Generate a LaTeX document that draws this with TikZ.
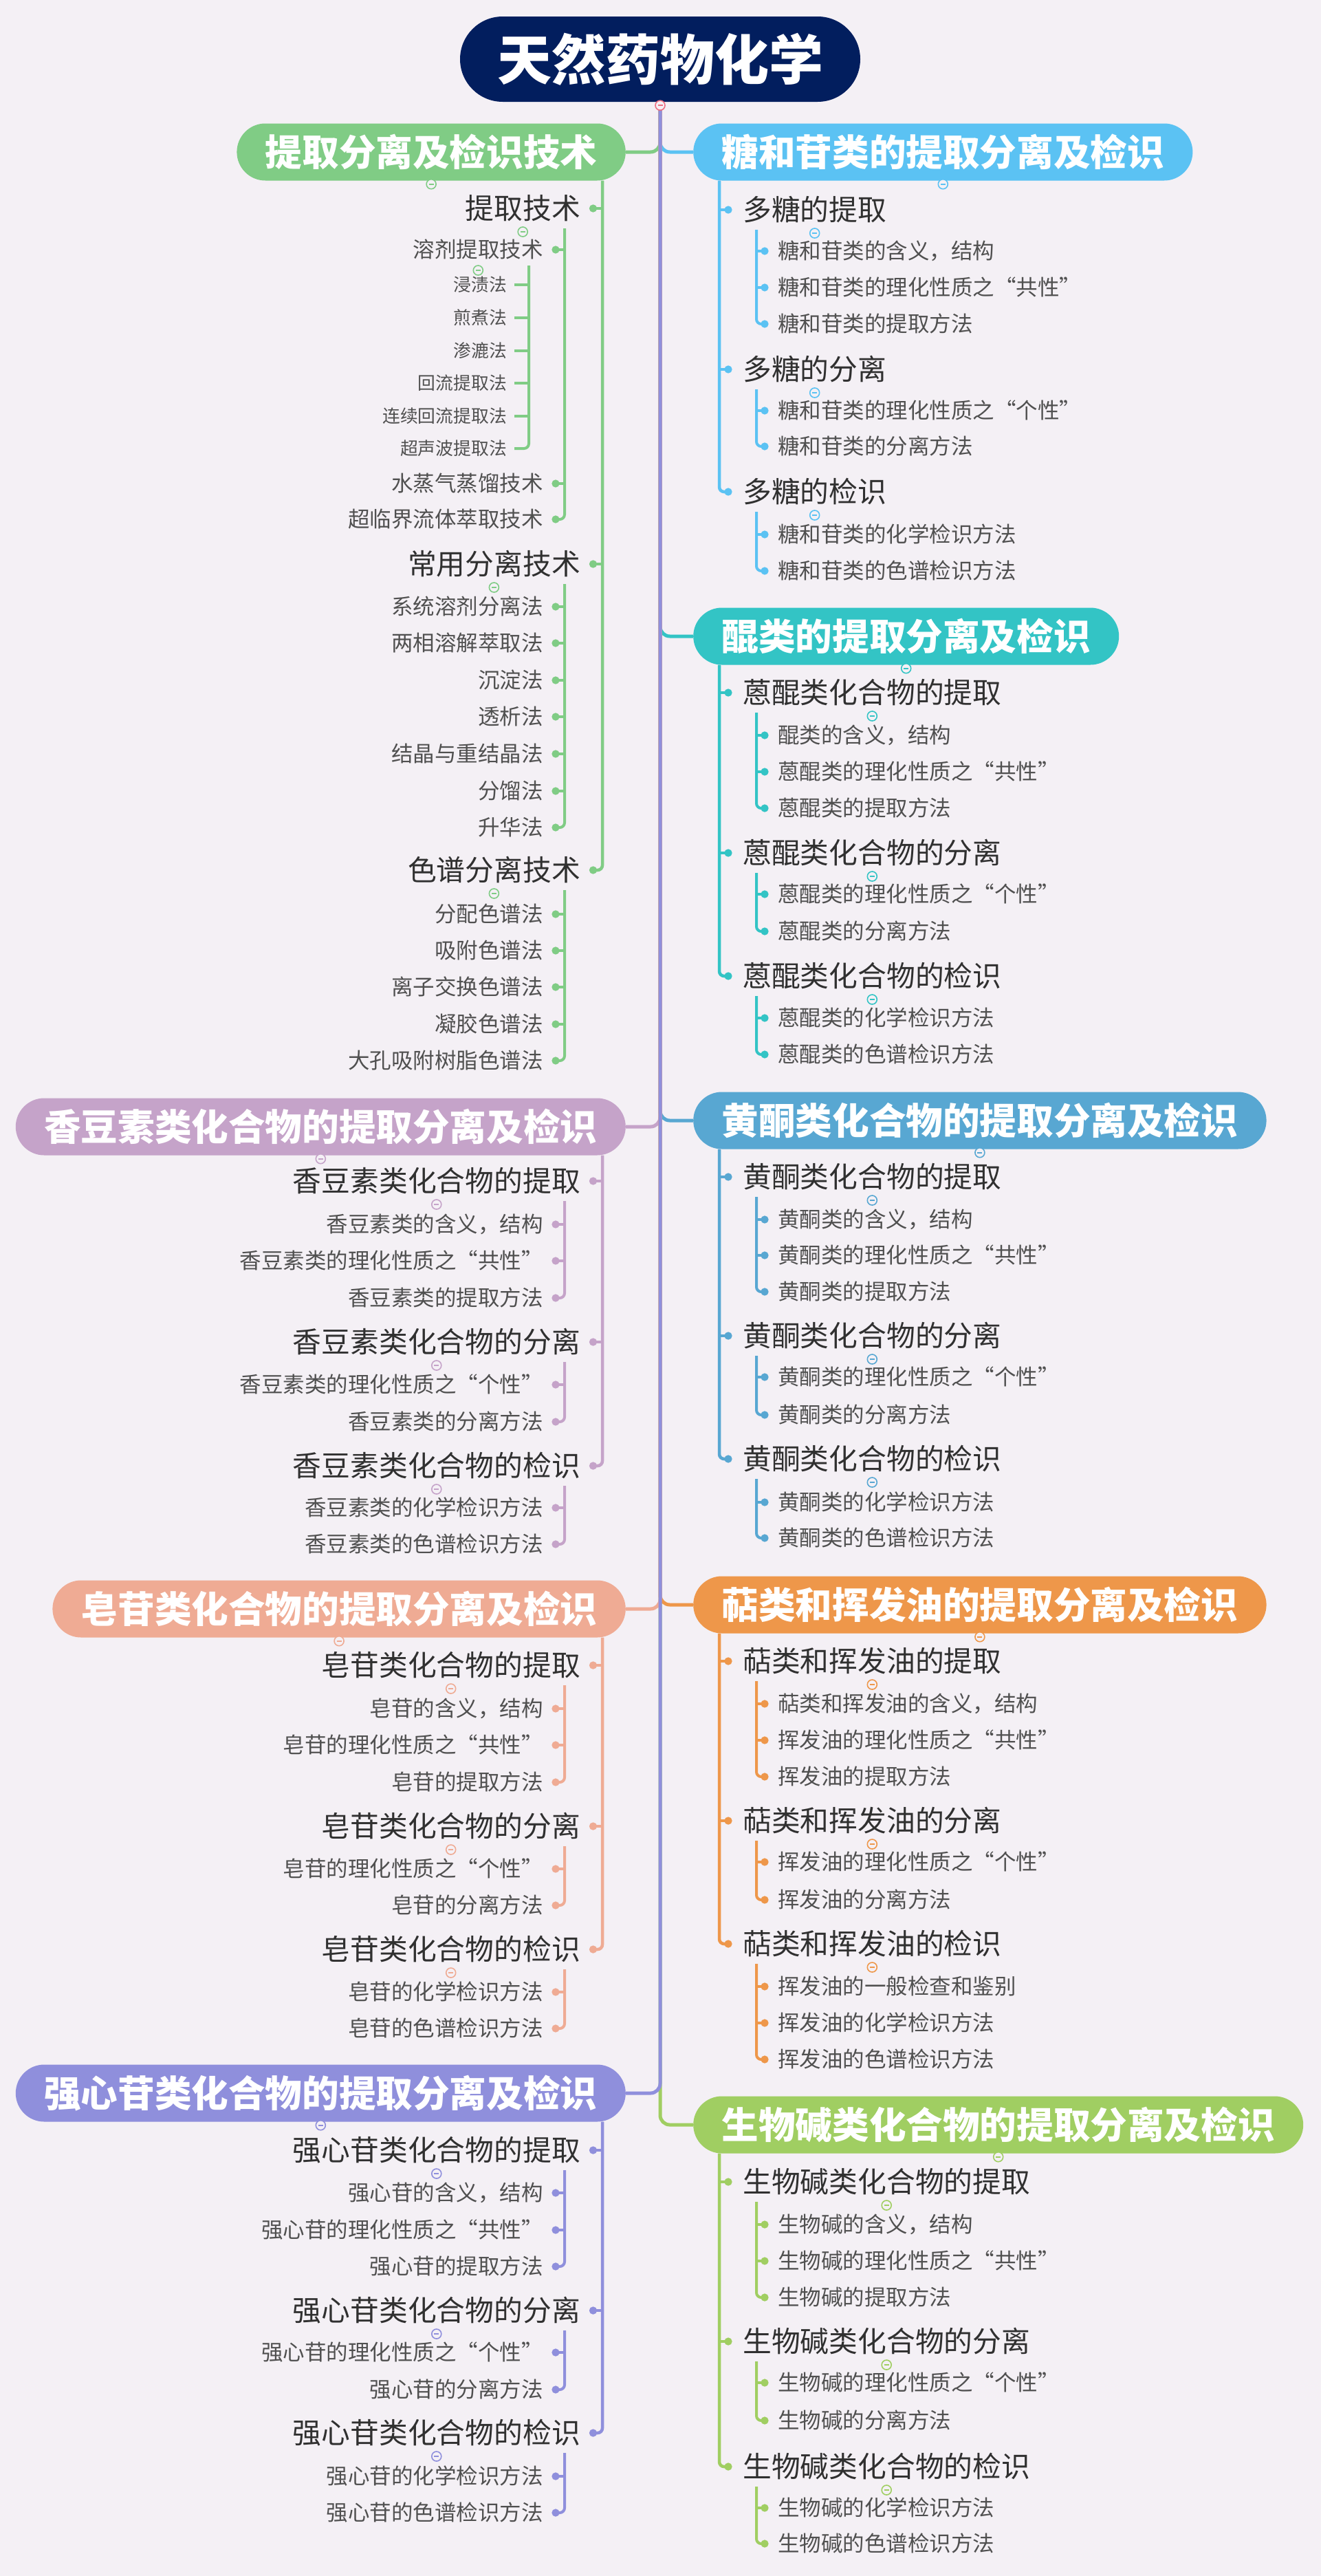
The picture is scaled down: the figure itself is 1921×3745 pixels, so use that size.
\documentclass[tikz,border=0pt]{standalone}
\usepackage{fontspec}
\setmainfont{Noto Sans CJK SC}
\usepackage{xcolor}
\usepackage{tikz}
\usetikzlibrary{arrows.meta}

\definecolor{bg}{HTML}{F4F0F5}
\definecolor{cRoot}{HTML}{021E5E}
\definecolor{cFold}{HTML}{EE6E82}
\definecolor{cA}{HTML}{80CC85}
\definecolor{cT}{HTML}{5BC2F3}
\definecolor{cQ}{HTML}{33C4C5}
\definecolor{cH}{HTML}{58A7D2}
\definecolor{cX}{HTML}{C5A3C9}
\definecolor{cP}{HTML}{EE974A}
\definecolor{cZ}{HTML}{EFAB94}
\definecolor{cC}{HTML}{8F8FDC}
\definecolor{cS}{HTML}{A0CE62}
\definecolor{txtA}{HTML}{303030}
\definecolor{txtB}{HTML}{505050}

\newcommand{\foldmark}[2]{%
  \draw[#1, line width=1.6pt, fill=bg] (#2) circle (7pt);
  \draw[#1, line width=1.6pt] (#2) ++(-3.5pt,0) -- ++(7pt,0);}

\tikzset{
  rootbox/.style={fill=cRoot, text=white, rounded corners=62pt, minimum height=124pt,
    inner xsep=54pt, inner ysep=0pt, font=\fontsize{79}{90}\selectfont\bfseries,
    text height=63.2pt, text depth=3.2pt},
  pill/.style={rounded corners=41.5pt, minimum height=83pt, inner xsep=41.5pt, inner ysep=0pt,
    text=white, font=\fontsize{53.6}{60}\selectfont\bfseries, text height=42.9pt, text depth=2.1pt},
  lvtwo/.style={inner sep=0pt, text=txtA, font=\fontsize{41.8}{48}\selectfont,
    text height=33.4pt, text depth=1.7pt},
  lvthree/.style={inner sep=0pt, text=txtB, font=\fontsize{31.5}{36}\selectfont,
    text height=25.2pt, text depth=1.3pt},
  lvfour/.style={inner sep=0pt, text=txtB, font=\fontsize{25.8}{30}\selectfont,
    text height=20.6pt, text depth=1pt},
  link/.style={line width=5pt, rounded corners=14pt},
  spine/.style={line width=4.5pt, rounded corners=7pt, -{Circle[length=11pt]}},
  stub/.style={line width=4.5pt, -{Circle[length=11pt]}},
  spinethree/.style={line width=4pt, rounded corners=7pt, -{Circle[length=11pt]}},
  stubthree/.style={line width=4pt, -{Circle[length=11pt]}},
  spinefour/.style={line width=4pt, rounded corners=7pt},
  stubfour/.style={line width=4pt}
}

\begin{document}
\begin{tikzpicture}[x=1pt, y=-1pt]
\fill[bg] (0,0) rectangle (1921,3745);
\useasboundingbox (0,0) rectangle (1921,3745);

% root
\node[rootbox] (R) at (960,86) {天然药物化学};

% main branches
\node[pill, fill=cA, anchor=east] (A) at (910,221) {提取分离及检识技术};
\node[pill, fill=cX, anchor=east] (X) at (910,1638) {香豆素类化合物的提取分离及检识};
\node[pill, fill=cZ, anchor=east] (Z) at (910,2339) {皂苷类化合物的提取分离及检识};
\node[pill, fill=cC, anchor=east] (C) at (910,3043) {强心苷类化合物的提取分离及检识};
\node[pill, fill=cT, anchor=west] (T) at (1008,221) {糖和苷类的提取分离及检识};
\node[pill, fill=cQ, anchor=west] (Q) at (1008,925) {醌类的提取分离及检识};
\node[pill, fill=cH, anchor=west] (H) at (1008,1629) {黄酮类化合物的提取分离及检识};
\node[pill, fill=cP, anchor=west] (P) at (1008,2333) {萜类和挥发油的提取分离及检识};
\node[pill, fill=cS, anchor=west] (S) at (1008,3089) {生物碱类化合物的提取分离及检识};

% trunk
\draw[cS, link] (R.south) |- (S.west);
\draw[cA, link] (R.south) |- (A.east);
\draw[cT, link] (R.south) |- (T.west);
\draw[cQ, link] (R.south) |- (Q.west);
\draw[cH, link] (R.south) |- (H.west);
\draw[cX, link] (R.south) |- (X.east);
\draw[cP, link] (R.south) |- (P.west);
\draw[cZ, link] (R.south) |- (Z.east);
\draw[cC, link] (R.south) |- (C.east);
\foldmark{cFold}{[yshift=-5pt]R.south}

% ---- 提取分离及检识技术
\node[lvtwo, anchor=east] (A1) at (844,303) {提取技术};
\node[lvthree, anchor=east] (A11) at (790,363) {溶剂提取技术};
\node[lvfour, anchor=east] (A111) at (737,414) {浸渍法};
\node[lvfour, anchor=east] (A112) at (737,462) {煎煮法};
\node[lvfour, anchor=east] (A113) at (737,510) {渗漉法};
\node[lvfour, anchor=east] (A114) at (737,557) {回流提取法};
\node[lvfour, anchor=east] (A115) at (737,605) {连续回流提取法};
\node[lvfour, anchor=east] (A116) at (737,652) {超声波提取法};
\node[lvthree, anchor=east] (A12) at (790,703) {水蒸气蒸馏技术};
\node[lvthree, anchor=east] (A13) at (790,755) {超临界流体萃取技术};
\node[lvtwo, anchor=east] (A2) at (844,820) {常用分离技术};
\node[lvthree, anchor=east] (A21) at (790,882) {系统溶剂分离法};
\node[lvthree, anchor=east] (A22) at (790,935) {两相溶解萃取法};
\node[lvthree, anchor=east] (A23) at (790,989) {沉淀法};
\node[lvthree, anchor=east] (A24) at (790,1042) {透析法};
\node[lvthree, anchor=east] (A25) at (790,1096) {结晶与重结晶法};
\node[lvthree, anchor=east] (A26) at (790,1150) {分馏法};
\node[lvthree, anchor=east] (A27) at (790,1203) {升华法};
\node[lvtwo, anchor=east] (A3) at (844,1265) {色谱分离技术};
\node[lvthree, anchor=east] (A31) at (790,1329) {分配色谱法};
\node[lvthree, anchor=east] (A32) at (790,1382) {吸附色谱法};
\node[lvthree, anchor=east] (A33) at (790,1435) {离子交换色谱法};
\node[lvthree, anchor=east] (A34) at (790,1489) {凝胶色谱法};
\node[lvthree, anchor=east] (A35) at (790,1542) {大孔吸附树脂色谱法};

\draw[cA, spine] ([xshift=-34pt]A.south east) |- ([xshift=13pt]A3.east);
\foreach \n in {A1,A2} \draw[cA, stub] ([xshift=31pt]\n.east) -- ([xshift=13pt]\n.east);
\draw[cA, spinethree] ([xshift=-23pt,yshift=-29pt]A1.east) |- ([xshift=12.5pt]A13.east);
\foreach \n in {A11,A12} \draw[cA, stubthree] ([xshift=31pt]\n.east) -- ([xshift=12.5pt]\n.east);
\draw[cA, spinefour] ([xshift=-21pt,yshift=-23pt]A11.east) |- ([xshift=11pt]A116.east);
\foreach \n in {A111,A112,A113,A114,A115} \draw[cA, stubfour] ([xshift=30pt]\n.east) -- ([xshift=11pt]\n.east);
\draw[cA, spinethree] ([xshift=-23pt,yshift=-29pt]A2.east) |- ([xshift=12.5pt]A27.east);
\foreach \n in {A21,A22,A23,A24,A25,A26} \draw[cA, stubthree] ([xshift=31pt]\n.east) -- ([xshift=12.5pt]\n.east);
\draw[cA, spinethree] ([xshift=-23pt,yshift=-29pt]A3.east) |- ([xshift=12.5pt]A35.east);
\foreach \n in {A31,A32,A33,A34} \draw[cA, stubthree] ([xshift=31pt]\n.east) -- ([xshift=12.5pt]\n.east);
\foldmark{cA}{[yshift=-5pt]A.south}
\foreach \n in {A1,A2,A3} {\foldmark{cA}{[yshift=-34pt]\n.center}}
\foldmark{cA}{[yshift=-30pt]A11.center}

% ---- 香豆素类
\node[lvtwo, anchor=east] (X1) at (844,1717) {香豆素类化合物的提取};
\node[lvthree, anchor=east] (X11) at (790,1780) {香豆素类的含义，结构};
\node[lvthree, anchor=east] (X12) at (790,1833) {香豆素类的理化性质之“共性”};
\node[lvthree, anchor=east] (X13) at (790,1887) {香豆素类的提取方法};
\node[lvtwo, anchor=east] (X2) at (844,1951) {香豆素类化合物的分离};
\node[lvthree, anchor=east] (X21) at (790,2013) {香豆素类的理化性质之“个性”};
\node[lvthree, anchor=east] (X22) at (790,2067) {香豆素类的分离方法};
\node[lvtwo, anchor=east] (X3) at (844,2131) {香豆素类化合物的检识};
\node[lvthree, anchor=east] (X31) at (790,2192) {香豆素类的化学检识方法};
\node[lvthree, anchor=east] (X32) at (790,2245) {香豆素类的色谱检识方法};

\draw[cX, spine] ([xshift=-34pt]X.south east) |- ([xshift=13pt]X3.east);
\foreach \n in {X1,X2} \draw[cX, stub] ([xshift=31pt]\n.east) -- ([xshift=13pt]\n.east);
\draw[cX, spinethree] ([xshift=-23pt,yshift=-29pt]X1.east) |- ([xshift=12.5pt]X13.east);
\foreach \n in {X11,X12} \draw[cX, stubthree] ([xshift=31pt]\n.east) -- ([xshift=12.5pt]\n.east);
\draw[cX, spinethree] ([xshift=-23pt,yshift=-29pt]X2.east) |- ([xshift=12.5pt]X22.east);
\draw[cX, stubthree] ([xshift=31pt]X21.east) -- ([xshift=12.5pt]X21.east);
\draw[cX, spinethree] ([xshift=-23pt,yshift=-29pt]X3.east) |- ([xshift=12.5pt]X32.east);
\draw[cX, stubthree] ([xshift=31pt]X31.east) -- ([xshift=12.5pt]X31.east);
\foldmark{cX}{[yshift=-5pt]X.south}
\foreach \n in {X1,X2,X3} {\foldmark{cX}{[yshift=-34pt]\n.center}}

% ---- 皂苷类
\node[lvtwo, anchor=east] (Z1) at (844,2421) {皂苷类化合物的提取};
\node[lvthree, anchor=east] (Z11) at (790,2484) {皂苷的含义，结构};
\node[lvthree, anchor=east] (Z12) at (790,2537) {皂苷的理化性质之“共性”};
\node[lvthree, anchor=east] (Z13) at (790,2591) {皂苷的提取方法};
\node[lvtwo, anchor=east] (Z2) at (844,2655) {皂苷类化合物的分离};
\node[lvthree, anchor=east] (Z21) at (790,2717) {皂苷的理化性质之“个性”};
\node[lvthree, anchor=east] (Z22) at (790,2770) {皂苷的分离方法};
\node[lvtwo, anchor=east] (Z3) at (844,2834) {皂苷类化合物的检识};
\node[lvthree, anchor=east] (Z31) at (790,2896) {皂苷的化学检识方法};
\node[lvthree, anchor=east] (Z32) at (790,2949) {皂苷的色谱检识方法};

\draw[cZ, spine] ([xshift=-34pt]Z.south east) |- ([xshift=13pt]Z3.east);
\foreach \n in {Z1,Z2} \draw[cZ, stub] ([xshift=31pt]\n.east) -- ([xshift=13pt]\n.east);
\draw[cZ, spinethree] ([xshift=-23pt,yshift=-29pt]Z1.east) |- ([xshift=12.5pt]Z13.east);
\foreach \n in {Z11,Z12} \draw[cZ, stubthree] ([xshift=31pt]\n.east) -- ([xshift=12.5pt]\n.east);
\draw[cZ, spinethree] ([xshift=-23pt,yshift=-29pt]Z2.east) |- ([xshift=12.5pt]Z22.east);
\draw[cZ, stubthree] ([xshift=31pt]Z21.east) -- ([xshift=12.5pt]Z21.east);
\draw[cZ, spinethree] ([xshift=-23pt,yshift=-29pt]Z3.east) |- ([xshift=12.5pt]Z32.east);
\draw[cZ, stubthree] ([xshift=31pt]Z31.east) -- ([xshift=12.5pt]Z31.east);
\foldmark{cZ}{[yshift=-5pt]Z.south}
\foreach \n in {Z1,Z2,Z3} {\foldmark{cZ}{[yshift=-34pt]\n.center}}

% ---- 强心苷类
\node[lvtwo, anchor=east] (C1) at (844,3126) {强心苷类化合物的提取};
\node[lvthree, anchor=east] (C11) at (790,3188) {强心苷的含义，结构};
\node[lvthree, anchor=east] (C12) at (790,3242) {强心苷的理化性质之“共性”};
\node[lvthree, anchor=east] (C13) at (790,3295) {强心苷的提取方法};
\node[lvtwo, anchor=east] (C2) at (844,3359) {强心苷类化合物的分离};
\node[lvthree, anchor=east] (C21) at (790,3420) {强心苷的理化性质之“个性”};
\node[lvthree, anchor=east] (C22) at (790,3474) {强心苷的分离方法};
\node[lvtwo, anchor=east] (C3) at (844,3537) {强心苷类化合物的检识};
\node[lvthree, anchor=east] (C31) at (790,3600) {强心苷的化学检识方法};
\node[lvthree, anchor=east] (C32) at (790,3653) {强心苷的色谱检识方法};

\draw[cC, spine] ([xshift=-34pt]C.south east) |- ([xshift=13pt]C3.east);
\foreach \n in {C1,C2} \draw[cC, stub] ([xshift=31pt]\n.east) -- ([xshift=13pt]\n.east);
\draw[cC, spinethree] ([xshift=-23pt,yshift=-29pt]C1.east) |- ([xshift=12.5pt]C13.east);
\foreach \n in {C11,C12} \draw[cC, stubthree] ([xshift=31pt]\n.east) -- ([xshift=12.5pt]\n.east);
\draw[cC, spinethree] ([xshift=-23pt,yshift=-29pt]C2.east) |- ([xshift=12.5pt]C22.east);
\draw[cC, stubthree] ([xshift=31pt]C21.east) -- ([xshift=12.5pt]C21.east);
\draw[cC, spinethree] ([xshift=-23pt,yshift=-29pt]C3.east) |- ([xshift=12.5pt]C32.east);
\draw[cC, stubthree] ([xshift=31pt]C31.east) -- ([xshift=12.5pt]C31.east);
\foldmark{cC}{[yshift=-5pt]C.south}
\foreach \n in {C1,C2,C3} {\foldmark{cC}{[yshift=-34pt]\n.center}}

% ---- 糖和苷类
\node[lvtwo, anchor=west] (T1) at (1080,305) {多糖的提取};
\node[lvthree, anchor=west] (T11) at (1131,365) {糖和苷类的含义，结构};
\node[lvthree, anchor=west] (T12) at (1131,418) {糖和苷类的理化性质之“共性”};
\node[lvthree, anchor=west] (T13) at (1131,471) {糖和苷类的提取方法};
\node[lvtwo, anchor=west] (T2) at (1080,537) {多糖的分离};
\node[lvthree, anchor=west] (T21) at (1131,597) {糖和苷类的理化性质之“个性”};
\node[lvthree, anchor=west] (T22) at (1131,649) {糖和苷类的分离方法};
\node[lvtwo, anchor=west] (T3) at (1080,715) {多糖的检识};
\node[lvthree, anchor=west] (T31) at (1131,777) {糖和苷类的化学检识方法};
\node[lvthree, anchor=west] (T32) at (1131,830) {糖和苷类的色谱检识方法};

\draw[cT, spine] ([xshift=38pt]T.south west) |- ([xshift=-15.5pt]T3.west);
\foreach \n in {T1,T2} \draw[cT, stub] ([xshift=-34pt]\n.west) -- ([xshift=-15.5pt]\n.west);
\draw[cT, spinethree] ([xshift=20pt,yshift=-29pt]T1.west) |- ([xshift=-13.5pt]T13.west);
\foreach \n in {T11,T12} \draw[cT, stubthree] ([xshift=-31pt]\n.west) -- ([xshift=-13.5pt]\n.west);
\draw[cT, spinethree] ([xshift=20pt,yshift=-29pt]T2.west) |- ([xshift=-13.5pt]T22.west);
\draw[cT, stubthree] ([xshift=-31pt]T21.west) -- ([xshift=-13.5pt]T21.west);
\draw[cT, spinethree] ([xshift=20pt,yshift=-29pt]T3.west) |- ([xshift=-13.5pt]T32.west);
\draw[cT, stubthree] ([xshift=-31pt]T31.west) -- ([xshift=-13.5pt]T31.west);
\foldmark{cT}{[yshift=-5pt]T.south}
\foreach \n in {T1,T2,T3} {\foldmark{cT}{[yshift=-34pt]\n.center}}

% ---- 醌类
\node[lvtwo, anchor=west] (Q1) at (1080,1007) {蒽醌类化合物的提取};
\node[lvthree, anchor=west] (Q11) at (1131,1069) {醌类的含义，结构};
\node[lvthree, anchor=west] (Q12) at (1131,1122) {蒽醌类的理化性质之“共性”};
\node[lvthree, anchor=west] (Q13) at (1131,1175) {蒽醌类的提取方法};
\node[lvtwo, anchor=west] (Q2) at (1080,1240) {蒽醌类化合物的分离};
\node[lvthree, anchor=west] (Q21) at (1131,1300) {蒽醌类的理化性质之“个性”};
\node[lvthree, anchor=west] (Q22) at (1131,1354) {蒽醌类的分离方法};
\node[lvtwo, anchor=west] (Q3) at (1080,1419) {蒽醌类化合物的检识};
\node[lvthree, anchor=west] (Q31) at (1131,1480) {蒽醌类的化学检识方法};
\node[lvthree, anchor=west] (Q32) at (1131,1533) {蒽醌类的色谱检识方法};

\draw[cQ, spine] ([xshift=38pt]Q.south west) |- ([xshift=-15.5pt]Q3.west);
\foreach \n in {Q1,Q2} \draw[cQ, stub] ([xshift=-34pt]\n.west) -- ([xshift=-15.5pt]\n.west);
\draw[cQ, spinethree] ([xshift=20pt,yshift=-29pt]Q1.west) |- ([xshift=-13.5pt]Q13.west);
\foreach \n in {Q11,Q12} \draw[cQ, stubthree] ([xshift=-31pt]\n.west) -- ([xshift=-13.5pt]\n.west);
\draw[cQ, spinethree] ([xshift=20pt,yshift=-29pt]Q2.west) |- ([xshift=-13.5pt]Q22.west);
\draw[cQ, stubthree] ([xshift=-31pt]Q21.west) -- ([xshift=-13.5pt]Q21.west);
\draw[cQ, spinethree] ([xshift=20pt,yshift=-29pt]Q3.west) |- ([xshift=-13.5pt]Q32.west);
\draw[cQ, stubthree] ([xshift=-31pt]Q31.west) -- ([xshift=-13.5pt]Q31.west);
\foldmark{cQ}{[yshift=-5pt]Q.south}
\foreach \n in {Q1,Q2,Q3} {\foldmark{cQ}{[yshift=-34pt]\n.center}}

% ---- 黄酮类
\node[lvtwo, anchor=west] (H1) at (1080,1711) {黄酮类化合物的提取};
\node[lvthree, anchor=west] (H11) at (1131,1773) {黄酮类的含义，结构};
\node[lvthree, anchor=west] (H12) at (1131,1825) {黄酮类的理化性质之“共性”};
\node[lvthree, anchor=west] (H13) at (1131,1878) {黄酮类的提取方法};
\node[lvtwo, anchor=west] (H2) at (1080,1942) {黄酮类化合物的分离};
\node[lvthree, anchor=west] (H21) at (1131,2002) {黄酮类的理化性质之“个性”};
\node[lvthree, anchor=west] (H22) at (1131,2057) {黄酮类的分离方法};
\node[lvtwo, anchor=west] (H3) at (1080,2121) {黄酮类化合物的检识};
\node[lvthree, anchor=west] (H31) at (1131,2184) {黄酮类的化学检识方法};
\node[lvthree, anchor=west] (H32) at (1131,2236) {黄酮类的色谱检识方法};

\draw[cH, spine] ([xshift=38pt]H.south west) |- ([xshift=-15.5pt]H3.west);
\foreach \n in {H1,H2} \draw[cH, stub] ([xshift=-34pt]\n.west) -- ([xshift=-15.5pt]\n.west);
\draw[cH, spinethree] ([xshift=20pt,yshift=-29pt]H1.west) |- ([xshift=-13.5pt]H13.west);
\foreach \n in {H11,H12} \draw[cH, stubthree] ([xshift=-31pt]\n.west) -- ([xshift=-13.5pt]\n.west);
\draw[cH, spinethree] ([xshift=20pt,yshift=-29pt]H2.west) |- ([xshift=-13.5pt]H22.west);
\draw[cH, stubthree] ([xshift=-31pt]H21.west) -- ([xshift=-13.5pt]H21.west);
\draw[cH, spinethree] ([xshift=20pt,yshift=-29pt]H3.west) |- ([xshift=-13.5pt]H32.west);
\draw[cH, stubthree] ([xshift=-31pt]H31.west) -- ([xshift=-13.5pt]H31.west);
\foldmark{cH}{[yshift=-5pt]H.south}
\foreach \n in {H1,H2,H3} {\foldmark{cH}{[yshift=-34pt]\n.center}}

% ---- 萜类和挥发油
\node[lvtwo, anchor=west] (P1) at (1080,2415) {萜类和挥发油的提取};
\node[lvthree, anchor=west] (P11) at (1131,2477) {萜类和挥发油的含义，结构};
\node[lvthree, anchor=west] (P12) at (1131,2530) {挥发油的理化性质之“共性”};
\node[lvthree, anchor=west] (P13) at (1131,2583) {挥发油的提取方法};
\node[lvtwo, anchor=west] (P2) at (1080,2647) {萜类和挥发油的分离};
\node[lvthree, anchor=west] (P21) at (1131,2707) {挥发油的理化性质之“个性”};
\node[lvthree, anchor=west] (P22) at (1131,2762) {挥发油的分离方法};
\node[lvtwo, anchor=west] (P3) at (1080,2826) {萜类和挥发油的检识};
\node[lvthree, anchor=west] (P31) at (1131,2888) {挥发油的一般检查和鉴别};
\node[lvthree, anchor=west] (P32) at (1131,2941) {挥发油的化学检识方法};
\node[lvthree, anchor=west] (P33) at (1131,2994) {挥发油的色谱检识方法};

\draw[cP, spine] ([xshift=38pt]P.south west) |- ([xshift=-15.5pt]P3.west);
\foreach \n in {P1,P2} \draw[cP, stub] ([xshift=-34pt]\n.west) -- ([xshift=-15.5pt]\n.west);
\draw[cP, spinethree] ([xshift=20pt,yshift=-29pt]P1.west) |- ([xshift=-13.5pt]P13.west);
\foreach \n in {P11,P12} \draw[cP, stubthree] ([xshift=-31pt]\n.west) -- ([xshift=-13.5pt]\n.west);
\draw[cP, spinethree] ([xshift=20pt,yshift=-29pt]P2.west) |- ([xshift=-13.5pt]P22.west);
\draw[cP, stubthree] ([xshift=-31pt]P21.west) -- ([xshift=-13.5pt]P21.west);
\draw[cP, spinethree] ([xshift=20pt,yshift=-29pt]P3.west) |- ([xshift=-13.5pt]P33.west);
\foreach \n in {P31,P32} \draw[cP, stubthree] ([xshift=-31pt]\n.west) -- ([xshift=-13.5pt]\n.west);
\foldmark{cP}{[yshift=-5pt]P.south}
\foreach \n in {P1,P2,P3} {\foldmark{cP}{[yshift=-34pt]\n.center}}

% ---- 生物碱类
\node[lvtwo, anchor=west] (S1) at (1080,3172) {生物碱类化合物的提取};
\node[lvthree, anchor=west] (S11) at (1131,3234) {生物碱的含义，结构};
\node[lvthree, anchor=west] (S12) at (1131,3287) {生物碱的理化性质之“共性”};
\node[lvthree, anchor=west] (S13) at (1131,3340) {生物碱的提取方法};
\node[lvtwo, anchor=west] (S2) at (1080,3404) {生物碱类化合物的分离};
\node[lvthree, anchor=west] (S21) at (1131,3464) {生物碱的理化性质之“个性”};
\node[lvthree, anchor=west] (S22) at (1131,3519) {生物碱的分离方法};
\node[lvtwo, anchor=west] (S3) at (1080,3586) {生物碱类化合物的检识};
\node[lvthree, anchor=west] (S31) at (1131,3646) {生物碱的化学检识方法};
\node[lvthree, anchor=west] (S32) at (1131,3698) {生物碱的色谱检识方法};

\draw[cS, spine] ([xshift=38pt]S.south west) |- ([xshift=-15.5pt]S3.west);
\foreach \n in {S1,S2} \draw[cS, stub] ([xshift=-34pt]\n.west) -- ([xshift=-15.5pt]\n.west);
\draw[cS, spinethree] ([xshift=20pt,yshift=-29pt]S1.west) |- ([xshift=-13.5pt]S13.west);
\foreach \n in {S11,S12} \draw[cS, stubthree] ([xshift=-31pt]\n.west) -- ([xshift=-13.5pt]\n.west);
\draw[cS, spinethree] ([xshift=20pt,yshift=-29pt]S2.west) |- ([xshift=-13.5pt]S22.west);
\draw[cS, stubthree] ([xshift=-31pt]S21.west) -- ([xshift=-13.5pt]S21.west);
\draw[cS, spinethree] ([xshift=20pt,yshift=-29pt]S3.west) |- ([xshift=-13.5pt]S32.west);
\draw[cS, stubthree] ([xshift=-31pt]S31.west) -- ([xshift=-13.5pt]S31.west);
\foldmark{cS}{[yshift=-5pt]S.south}
\foreach \n in {S1,S2,S3} {\foldmark{cS}{[yshift=-34pt]\n.center}}
\end{tikzpicture}
\end{document}
